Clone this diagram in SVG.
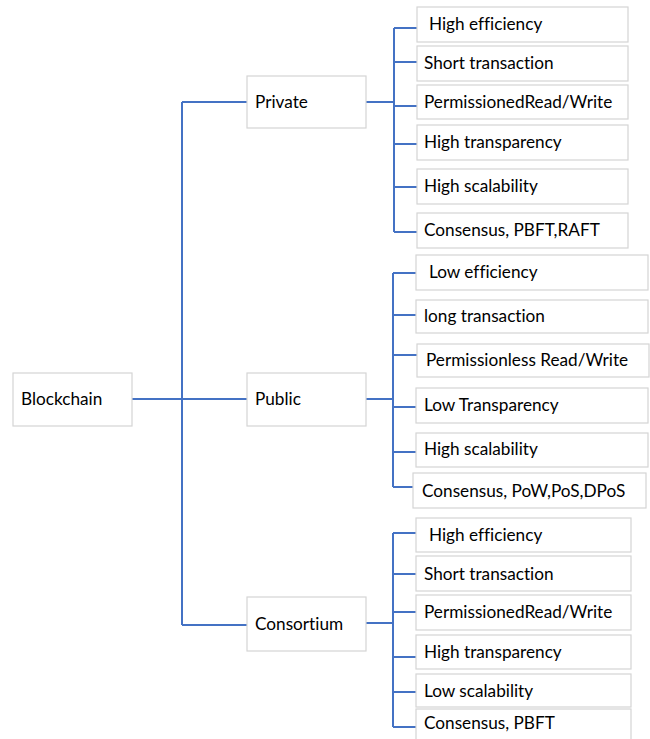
<svg xmlns="http://www.w3.org/2000/svg" width="650" height="739" viewBox="0 0 650 739">
<style>
.b{fill:#fff;stroke:#d4d4d4;stroke-width:1.2}
.t{font-family:Lato,"Open Sans",sans-serif;font-size:17.2px;fill:#000;font-variant-ligatures:none}
.c{fill:none;stroke:#4472c4;stroke-width:2}
</style>
<rect width="650" height="739" fill="#fff"/>
<g id="connectors">
<path class="c" d="M132,399H247M182,102V625M182,102H247M182,625H247"/>
<path class="c" d="M366,102H394M394,28V232M394,28H418M394,62H418M394,106H418M394,144H418M394,187H418M394,232H418"/>
<path class="c" d="M366,399H393M393,273V487M393,273H418M393,315H418M393,355H418M393,407H418M393,452H418M393,487H415"/>
<path class="c" d="M366,623H393M393,533V727M393,533H418M393,574H418M393,612H418M393,657H418M393,692H418M393,727H418"/>
</g>
<g id="blockchain"><rect class="b" x="13" y="373" width="119" height="53"/><text class="t" x="21" y="405">Blockchain</text></g>
<g id="private"><rect class="b" x="247" y="76" width="119" height="52"/><text class="t" x="255" y="108">Private</text></g>
<g id="public"><rect class="b" x="247" y="373" width="119" height="53"/><text class="t" x="255" y="405">Public</text></g>
<g id="consortium"><rect class="b" x="247" y="597" width="119" height="54"/><text class="t" x="255" y="630">Consortium</text></g>
<g id="pr1"><rect class="b" x="417" y="7" width="211" height="35"/><text class="t" x="429" y="30">High efficiency</text></g>
<g id="pr2"><rect class="b" x="417" y="46" width="211" height="35"/><text class="t" x="424" y="69">Short transaction</text></g>
<g id="pr3"><rect class="b" x="417" y="85" width="211" height="34"/><text class="t" x="424" y="108">PermissionedRead/Write</text></g>
<g id="pr4"><rect class="b" x="417" y="125" width="211" height="35"/><text class="t" x="424" y="148">High transparency</text></g>
<g id="pr5"><rect class="b" x="417" y="169" width="211" height="35"/><text class="t" x="424" y="192">High scalability</text></g>
<g id="pr6"><rect class="b" x="417" y="213" width="211" height="35"/><text class="t" x="424" y="236">Consensus, PBFT,RAFT</text></g>
<g id="pu1"><rect class="b" x="416" y="255" width="232" height="35"/><text class="t" x="429" y="278">Low efficiency</text></g>
<g id="pu2"><rect class="b" x="416" y="300" width="232" height="33"/><text class="t" x="424" y="322">long transaction</text></g>
<g id="pu3"><rect class="b" x="417" y="344" width="232" height="33"/><text class="t" x="426" y="366">Permissionless Read/Write</text></g>
<g id="pu4"><rect class="b" x="416" y="388" width="232" height="35"/><text class="t" x="424" y="411">Low Transparency</text></g>
<g id="pu5"><rect class="b" x="416" y="433" width="232" height="34"/><text class="t" x="424" y="455">High scalability</text></g>
<g id="pu6"><rect class="b" x="413" y="473" width="233" height="35"/><text class="t" x="422" y="497">Consensus, PoW,PoS,DPoS</text></g>
<g id="co1"><rect class="b" x="416" y="518" width="215" height="34"/><text class="t" x="429" y="541">High efficiency</text></g>
<g id="co2"><rect class="b" x="416" y="556" width="215" height="35"/><text class="t" x="424" y="580">Short transaction</text></g>
<g id="co3"><rect class="b" x="416" y="595" width="215" height="35"/><text class="t" x="424" y="618">PermissionedRead/Write</text></g>
<g id="co4"><rect class="b" x="416" y="635" width="215" height="34"/><text class="t" x="424" y="658">High transparency</text></g>
<g id="co5"><rect class="b" x="416" y="674" width="215" height="33"/><text class="t" x="424" y="697">Low scalability</text></g>
<g id="co6"><rect class="b" x="416" y="709" width="215" height="40"/><text class="t" x="424" y="729">Consensus, PBFT</text></g>
</svg>
